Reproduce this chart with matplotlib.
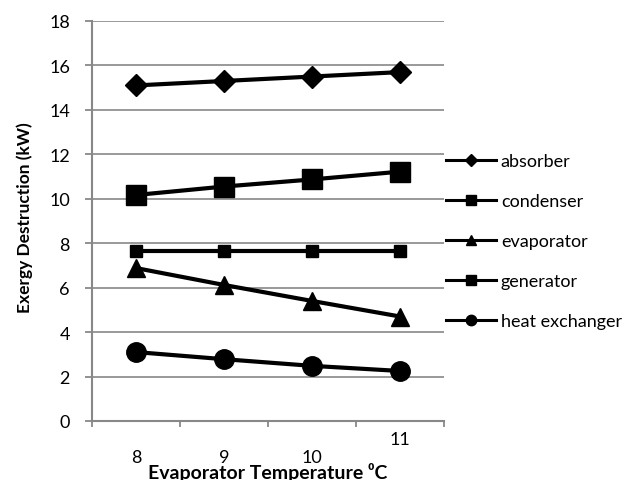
import matplotlib
matplotlib.use('Agg')
import matplotlib.pyplot as plt
import matplotlib.transforms as mtransforms

plt.rcParams['font.family'] = ['Lato', 'DejaVu Sans']

temps = ['8', '9', '10', '11']
absorber = [15.1, 15.3, 15.5, 15.7]
condenser = [7.63, 7.63, 7.63, 7.63]
evaporator = [6.88, 6.12, 5.4, 4.7]
generator = [10.17, 10.55, 10.87, 11.22]
heat_exchanger = [3.1, 2.78, 2.48, 2.25]

fig = plt.figure(figsize=(6.31, 4.81), dpi=100)
ax = fig.add_axes([0.146, 0.1227, 0.558, 0.8316])

x = list(range(len(temps)))
# name, values, marker, size in plot, size in legend
series = [
    ('absorber', absorber, 'D', 11, 6),
    ('condenser', condenser, 's', 8, 7),
    ('evaporator', evaporator, '^', 13, 7.5),
    ('generator', generator, 's', 14, 7),
    ('heat exchanger', heat_exchanger, 'o', 14, 7.5),
]
handles = []
for name, vals, mk, ms, lms in series:
    ax.plot(x, vals, color='black', lw=3, marker=mk, ms=ms, zorder=3)
    h, = plt.plot([], [], color='black', lw=2.2, marker=mk, ms=lms, label=name)
    handles.append(h)

ax.set_xlim(-0.5, 3.5)
ax.set_ylim(0, 18)
ax.set_yticks(range(0, 19, 2))
ax.set_xticks([-0.5, 0.5, 1.5, 2.5, 3.5])
ax.set_xticklabels([])
ax.set_xticks(x, minor=True)
ax.set_xticklabels(temps, minor=True, fontsize=13)
ax.tick_params(axis='x', which='minor', length=0, pad=20)
ax.tick_params(axis='x', which='major', length=4.5, width=1.3, color='#888888', direction='out')
ax.tick_params(axis='y', length=5, width=1.3, color='#888888', labelsize=13, pad=11)

# the last category label sits higher, as in the original
lbl = ax.xaxis.get_minor_ticks()[-1].label1
lbl.set_transform(lbl.get_transform() + mtransforms.ScaledTranslation(0, 13/72, fig.dpi_scale_trans))

ax.grid(axis='y', color='#888888', lw=1.2)
ax.set_axisbelow(True)
for s in ['top', 'right']:
    ax.spines[s].set_visible(False)
for s in ['left', 'bottom']:
    ax.spines[s].set_color('#888888')
    ax.spines[s].set_linewidth(1.5)

ax.set_ylabel('Exergy Destruction (kW)', fontsize=12.5, fontweight='bold')
ax.yaxis.set_label_coords(-0.168, 0.51)
ax.set_xlabel('Evaporator Temperature \u2070C', fontsize=14, fontweight='bold')
ax.xaxis.set_label_coords(0.5, -0.102)

fig.legend(handles=handles, loc='upper left', bbox_to_anchor=(0.695, 0.695),
           frameon=False, fontsize=13, handlelength=2.8, handletextpad=0.25,
           labelspacing=1.33, borderaxespad=0)

plt.savefig('out.png', dpi=100)
